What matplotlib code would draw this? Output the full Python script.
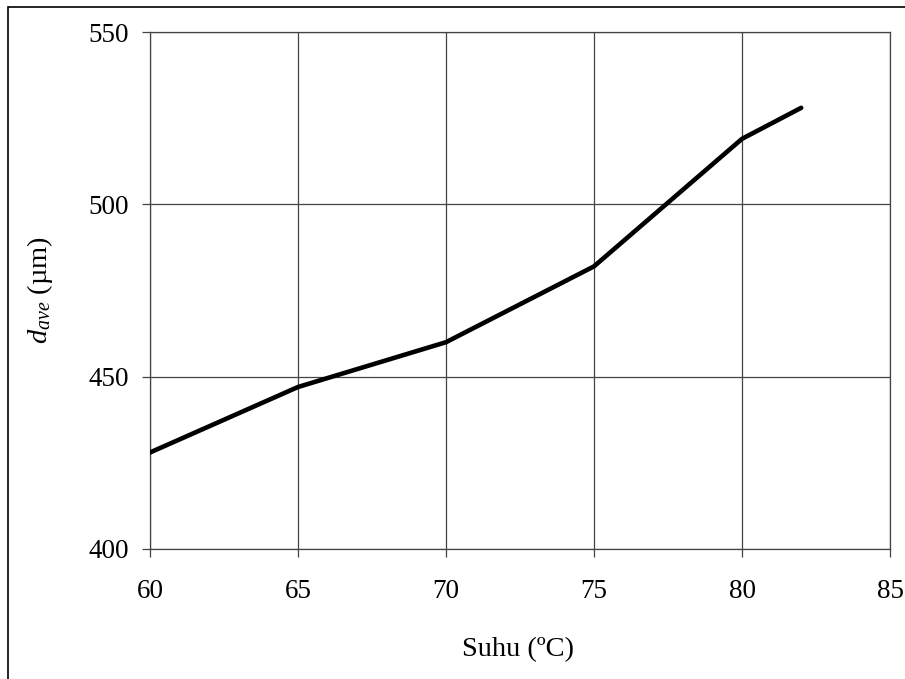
import matplotlib
matplotlib.use("Agg")
import matplotlib.pyplot as plt
from matplotlib.patches import Rectangle

# Data
suhu = [60, 65, 70, 75, 80, 82]
d_ave = [428, 447, 460, 482, 519, 528]
x_ticks = [60, 65, 70, 75, 80, 85]
y_ticks = [400, 450, 500, 550]

plt.rcParams["font.family"] = ["Liberation Serif", "DejaVu Serif"]
plt.rcParams["mathtext.fontset"] = "custom"
plt.rcParams["mathtext.rm"] = "Liberation Serif"
plt.rcParams["mathtext.it"] = "Liberation Serif:italic"

fig = plt.figure(figsize=(9.05, 6.79), dpi=100)
ax_l, ax_b, ax_w, ax_h = 150, 549, 740, 517  # pixels
ax = fig.add_axes([ax_l / 905, 1 - ax_b / 679, ax_w / 905, ax_h / 679])

ax.plot(suhu, d_ave, color="black", linewidth=3.3, solid_capstyle="round",
        solid_joinstyle="round", zorder=3)

ax.set_xlim(60, 85)
ax.set_ylim(400, 550)
ax.set_xticks(x_ticks)
ax.set_yticks(y_ticks)
ax.grid(True, color="#444444", linewidth=0.9)
ax.tick_params(direction="out", length=6, width=0.9, color="#444444",
               labelsize=19.5)
ax.tick_params(axis="y", pad=9)
ax.tick_params(axis="x", pad=15.5)
for sp in ax.spines.values():
    sp.set_color("#444444")
    sp.set_linewidth(0.9)

ax.set_xlabel("Suhu (ºC)", fontsize=20.5, va="center")
ax.xaxis.set_label_coords(0.5 - 2 / ax_w, -(650 - ax_b) / ax_h)
ax.set_ylabel(r"$d_{ave}$ (µm)", fontsize=20.5, va="center")
ax.yaxis.set_label_coords(-(ax_l - 40) / ax_w, 0.5)

# outer frame
fig.patches.append(Rectangle((8 / 905, -0.05), 1.1, 1 - 7 / 679 + 0.05,
                             transform=fig.transFigure, fill=False,
                             edgecolor="black", linewidth=1.2))

fig.savefig("out.png", dpi=100)
